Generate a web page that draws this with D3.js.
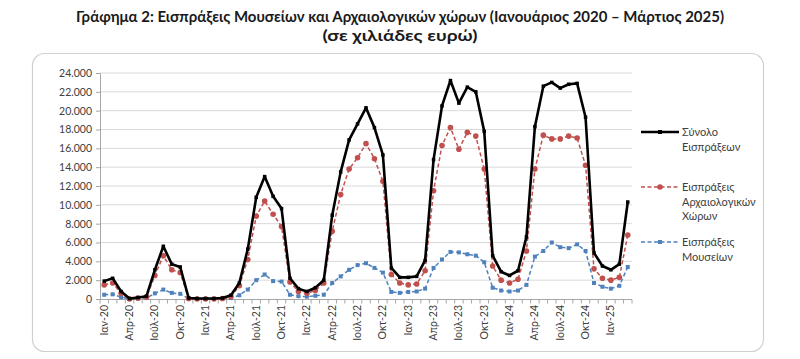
<!DOCTYPE html>
<html><head><meta charset="utf-8">
<script src="https://cdn.jsdelivr.net/npm/d3@7"></script>
<style>
html,body{margin:0;padding:0;background:#fff;}
text{font-family:Lato,"Open Sans",sans-serif;}
</style></head>
<body><svg id="chart" width="800" height="359"></svg>
<script>
const categories = [
 "Ιαν-20","Φεβ-20","Μαρ-20","Απρ-20","Μαϊ-20","Ιουν-20","Ιούλ-20","Αυγ-20","Σεπ-20","Οκτ-20","Νοε-20","Δεκ-20",
 "Ιαν-21","Φεβ-21","Μαρ-21","Απρ-21","Μαϊ-21","Ιουν-21","Ιούλ-21","Αυγ-21","Σεπ-21","Οκτ-21","Νοε-21","Δεκ-21",
 "Ιαν-22","Φεβ-22","Μαρ-22","Απρ-22","Μαϊ-22","Ιουν-22","Ιούλ-22","Αυγ-22","Σεπ-22","Οκτ-22","Νοε-22","Δεκ-22",
 "Ιαν-23","Φεβ-23","Μαρ-23","Απρ-23","Μαϊ-23","Ιουν-23","Ιούλ-23","Αυγ-23","Σεπ-23","Οκτ-23","Νοε-23","Δεκ-23",
 "Ιαν-24","Φεβ-24","Μαρ-24","Απρ-24","Μαϊ-24","Ιουν-24","Ιούλ-24","Αυγ-24","Σεπ-24","Οκτ-24","Νοε-24","Δεκ-24",
 "Ιαν-25","Φεβ-25","Μαρ-25"];
const tickLabels = ["Ιαν-20","Απρ-20","Ιούλ-20","Οκτ-20","Ιαν-21","Απρ-21","Ιούλ-21","Οκτ-21","Ιαν-22","Απρ-22","Ιούλ-22","Οκτ-22","Ιαν-23","Απρ-23","Ιούλ-23","Οκτ-23","Ιαν-24","Απρ-24","Ιούλ-24","Οκτ-24","Ιαν-25"];
const totalValues = [
 1900,2200,800,50,150,300,3100,5600,3700,3400,100,50,
 50,50,100,400,1700,5300,10800,13000,10900,9600,2200,1100,
 800,1200,2000,8900,13500,16900,18600,20300,18200,15300,3300,2300,
 2300,2400,4100,14800,20500,23200,20800,22500,22000,17800,4600,2900,
 2500,3000,6600,18300,22600,23000,22400,22800,22900,19300,4900,3500,
 3100,3700,10300];
const archValues = [
 1500,1700,600,0,100,200,2500,4600,3100,2800,50,0,
 0,0,50,250,1400,4200,8800,10400,9000,7700,1800,800,
 600,900,1700,7200,11100,13800,15000,16500,14900,12500,2600,1700,
 1500,1600,3000,11500,16300,18200,15900,17700,17300,13800,3500,2000,
 1700,2100,5100,13800,17400,17000,17000,17300,17100,14200,3200,2200,
 2000,2300,6800];
const museumValues = [
 450,500,200,0,50,100,600,1000,650,550,50,0,
 0,0,0,100,400,1000,2000,2600,1900,1850,450,300,
 250,350,450,1700,2400,3100,3600,3800,3300,2800,750,650,
 750,800,1100,3300,4200,5000,4950,4750,4600,3900,1200,900,
 800,900,1500,4500,5100,6000,5500,5400,5800,5100,1700,1300,
 1100,1400,3400];
const yTicks = [0,2000,4000,6000,8000,10000,12000,14000,16000,18000,20000,22000,24000];
const seriesNames = [["Σύνολο","Εισπράξεων"],["Εισπράξεις","Αρχαιολογικών","Χώρων"],["Εισπράξεις","Μουσείων"]];

const svg = d3.select("#chart");
const loc = d3.formatLocale({decimal:",",thousands:".",grouping:[3],currency:["","€"]});
const fmt = loc.format(",");

// title
svg.append("text").attr("x",400).attr("y",22).attr("text-anchor","middle")
  .attr("font-size",14.5).attr("font-weight","bold").attr("fill","#1a1a1a")
  .attr("textLength",648).attr("lengthAdjust","spacingAndGlyphs")
  .text("Γράφημα 2: Εισπράξεις Μουσείων και Αρχαιολογικών χώρων (Ιανουάριος 2020 – Μάρτιος 2025)");
svg.append("text").attr("x",400).attr("y",41).attr("text-anchor","middle")
  .attr("font-size",14.5).attr("font-weight","bold").attr("fill","#1a1a1a")
  .attr("textLength",155).attr("lengthAdjust","spacingAndGlyphs")
  .text("(σε χιλιάδες ευρώ)");

// frame
svg.append("rect").attr("x",32.5).attr("y",53.5).attr("width",731).attr("height",298)
  .attr("rx",12).attr("fill","#fff").attr("stroke","#d0d0d0").attr("stroke-width",1.2);

const x = d3.scaleBand().domain(d3.range(categories.length)).range([100,632]).paddingInner(0).paddingOuter(0);
const y = d3.scaleLinear().domain([0,24000]).range([299,73]);
const cx = i => x(i) + x.bandwidth()/2;

// gridlines
svg.append("g").selectAll("line").data(yTicks.filter(d=>d>0)).join("line")
  .attr("x1",100).attr("x2",632).attr("y1",d=>y(d)).attr("y2",d=>y(d))
  .attr("stroke","#d9d9d9").attr("stroke-width",1);

// y axis
const yAxis = svg.append("g").attr("transform","translate(100,0)")
  .call(d3.axisLeft(y).tickValues(yTicks).tickFormat(fmt).tickSize(4).tickPadding(4));
yAxis.select(".domain").attr("stroke","#a6a6a6");
yAxis.selectAll(".tick line").attr("stroke","#a6a6a6");
yAxis.selectAll(".tick text").attr("font-size",10.5).attr("fill","#404040")
  .style("font-family","Lato,'Open Sans',sans-serif");

// x axis with ticks at category boundaries
const xb = svg.append("g");
xb.append("line").attr("x1",100).attr("x2",632).attr("y1",299.5).attr("y2",299.5).attr("stroke","#a6a6a6");
xb.selectAll("line.t").data(d3.range(categories.length+1)).join("line").attr("class","t")
  .attr("x1",i=>i<categories.length?x(i):632).attr("x2",i=>i<categories.length?x(i):632)
  .attr("y1",299.5).attr("y2",303.5).attr("stroke","#a6a6a6");
const labelIdx = categories.map((c,i)=>i).filter(i=>tickLabels.includes(categories[i]));
xb.selectAll("text").data(labelIdx).join("text")
  .attr("transform",i=>`translate(${cx(i)+3.5},305) rotate(-90)`)
  .attr("text-anchor","end").attr("font-size",10.5).attr("fill","#404040")
  .text(i=>categories[i]);

// series
const line = d3.line().x((d,i)=>cx(i)).y(d=>y(d));
function drawSeries(vals,color,width,dash,marker,size){
  const g = svg.append("g");
  g.append("path").datum(vals).attr("d",line).attr("fill","none").attr("stroke",color)
    .attr("stroke-width",width).attr("stroke-dasharray",dash).attr("stroke-linejoin","round");
  if(marker==="circle"){
    g.selectAll("circle").data(vals).join("circle").attr("cx",(d,i)=>cx(i)).attr("cy",d=>y(d))
      .attr("r",size).attr("fill",color);
  } else {
    g.selectAll("rect").data(vals).join("rect").attr("x",(d,i)=>cx(i)-size/2).attr("y",d=>y(d)-size/2)
      .attr("width",size).attr("height",size).attr("fill",color);
  }
}
drawSeries(museumValues,"#4f81bd",1.5,"4,2.5","square",4);
drawSeries(archValues,"#c0504d",1.5,"4,2.5","circle",2.8);
drawSeries(totalValues,"#000000",2.6,null,"square",3.5);

// legend
const leg = [
  {names:seriesNames[0],color:"#000",w:2.6,dash:null,marker:"square",y:132},
  {names:seriesNames[1],color:"#c0504d",w:1.5,dash:"4,2.5",marker:"circle",y:187},
  {names:seriesNames[2],color:"#4f81bd",w:1.5,dash:"4,2.5",marker:"square",y:242}
];
leg.forEach(l=>{
  const g = svg.append("g");
  g.append("line").attr("x1",641).attr("x2",679).attr("y1",l.y).attr("y2",l.y)
    .attr("stroke",l.color).attr("stroke-width",l.w).attr("stroke-dasharray",l.dash);
  if(l.marker==="circle") g.append("circle").attr("cx",660).attr("cy",l.y).attr("r",2.8).attr("fill",l.color);
  else g.append("rect").attr("x",658).attr("y",l.y-2).attr("width",4).attr("height",4).attr("fill",l.color);
  l.names.forEach((n,k)=>{
    g.append("text").attr("x",682).attr("y",l.y+4+k*14.5).attr("font-size",11).attr("fill","#404040").text(n);
  });
});
</script></body></html>
